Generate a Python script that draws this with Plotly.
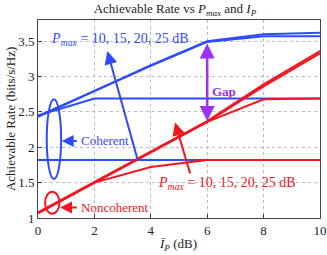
import plotly.graph_objects as go

# ---- data ----
ip_db = [0, 2, 4, 6, 8, 10]

coh_p10 = [1.82, 1.82, 1.82, 1.82, 1.82, 1.82]
coh_p15 = [2.45, 2.69, 2.69, 2.69, 2.69, 2.69]
coh_p20 = [2.44, 2.80, 3.15, 3.49, 3.57, 3.57]
coh_p25 = [2.43, 2.79, 3.16, 3.50, 3.60, 3.62]

noncoh_p10 = [1.07, 1.50, 1.72, 1.82, 1.82, 1.82]
noncoh_p15 = [1.07, 1.50, 1.93, 2.36, 2.68, 2.69]
noncoh_p20 = [1.07, 1.50, 1.93, 2.36, 2.86, 3.33]
noncoh_p25 = [1.08, 1.51, 1.94, 2.37, 2.89, 3.36]

x_ticks = [0, 2, 4, 6, 8, 10]
y_ticks = [1, 1.5, 2, 2.5, 3, 3.5]
y_tick_labels = ["1", "1.5", "2", "2.5", "3", "3.5"]

BLUE = "#2F4BFF"
RED = "#F5141E"
PURPLE = "#9B30FF"
FONT = "Liberation Serif"

fig = go.Figure()

for ys in [coh_p10, coh_p15, coh_p20, coh_p25]:
    fig.add_trace(go.Scatter(x=ip_db, y=ys, mode="lines",
                             line=dict(color=BLUE, width=2), showlegend=False))
for ys in [noncoh_p10, noncoh_p15, noncoh_p20, noncoh_p25]:
    fig.add_trace(go.Scatter(x=ip_db, y=ys, mode="lines",
                             line=dict(color=RED, width=2), showlegend=False))

# ellipses
fig.add_shape(type="circle", xref="x", yref="y", x0=0.31, x1=0.82, y0=1.55, y1=2.68,
              line=dict(color=BLUE, width=2))
fig.add_shape(type="circle", xref="x", yref="y", x0=0.25, x1=0.76, y0=1.06, y1=1.37,
              line=dict(color=RED, width=2))

ann = []
# blue arrow to Pmax text
ann.append(dict(x=2.46, y=3.36, ax=3.55, ay=1.80, xref="x", yref="y", axref="x", ayref="y",
                text="", showarrow=True, arrowhead=2, arrowsize=1.3, arrowwidth=2,
                arrowcolor=BLUE))
ann.append(dict(x=2.90, y=3.53, xref="x", yref="y", showarrow=False, xanchor="center",
                text="<i>P</i><sub><i>max</i></sub> = 10, 15, 20, 25 dB",
                font=dict(family=FONT, size=14, color=BLUE)))
# red arrow
ann.append(dict(x=4.86, y=2.35, ax=5.41, ay=1.61, xref="x", yref="y", axref="x", ayref="y",
                text="", showarrow=True, arrowhead=2, arrowsize=1.3, arrowwidth=2,
                arrowcolor=RED))
ann.append(dict(x=6.70, y=1.495, xref="x", yref="y", showarrow=False, xanchor="center",
                text="<i>P</i><sub><i>max</i></sub> = 10, 15, 20, 25 dB",
                font=dict(family=FONT, size=14, color=RED)))
# coherent
ann.append(dict(x=0.84, y=2.09, ax=1.43, ay=2.09, xref="x", yref="y", axref="x", ayref="y",
                text="", showarrow=True, arrowhead=2, arrowsize=1.2, arrowwidth=2,
                arrowcolor=BLUE))
ann.append(dict(x=1.45, y=2.09, xref="x", yref="y", showarrow=False, xanchor="left",
                text="Coherent", font=dict(family=FONT, size=13, color=BLUE)))
# noncoherent
ann.append(dict(x=0.78, y=1.15, ax=1.43, ay=1.15, xref="x", yref="y", axref="x", ayref="y",
                text="", showarrow=True, arrowhead=2, arrowsize=1.2, arrowwidth=2,
                arrowcolor=RED))
ann.append(dict(x=1.45, y=1.15, xref="x", yref="y", showarrow=False, xanchor="left",
                text="Noncoherent", font=dict(family=FONT, size=13, color=RED)))
# gap double arrow
ann.append(dict(x=6, y=2.37, ax=6, ay=3.49, xref="x", yref="y", axref="x", ayref="y",
                text="", showarrow=True, arrowhead=2, startarrowhead=2, arrowside="end+start",
                arrowsize=1.2, startarrowsize=1.2, arrowwidth=2.5, arrowcolor=PURPLE))
ann.append(dict(x=6.58, y=2.79, xref="x", yref="y", showarrow=False, xanchor="center",
                text="<b>Gap</b>", font=dict(family=FONT, size=13, color=PURPLE)))
# axis titles
ann.append(dict(x=-0.099, y=0.5, xref="paper", yref="paper", showarrow=False,
                xanchor="center", yanchor="middle",
                textangle=-90, text="Achievable Rate (bits/s/Hz)",
                font=dict(family=FONT, size=13, color="#222")))
ann.append(dict(x=0.495, y=-0.135, xref="paper", yref="paper", showarrow=False,
                xanchor="center", yanchor="middle",
                text="<i>Ī</i><sub><i>P</i></sub> (dB)",
                font=dict(family=FONT, size=13, color="#222")))

fig.update_layout(
    width=327, height=255,
    margin=dict(l=38, r=7, t=20, b=37, autoexpand=False),
    paper_bgcolor="white", plot_bgcolor="white",
    font=dict(family=FONT, size=13, color="#222"),
    title=dict(text="Achievable Rate vs <i>P</i><sub><i>max</i></sub> and <i>I</i><sub><i>P</i></sub>",
               x=0.535, xanchor="center", y=0.965, yanchor="middle",
               font=dict(family=FONT, size=13, color="#222")),
    annotations=ann,
    showlegend=False,
)
fig.update_xaxes(range=[0, 10], tickvals=x_ticks, showgrid=True, gridcolor="#bbbbbb",
                 griddash="dot", gridwidth=1, zeroline=False, showline=True, automargin=False,
                 linecolor="#444", linewidth=1, mirror=True, ticks="inside", ticklen=4,
                 tickcolor="#444", tickfont=dict(family=FONT, size=13, color="#222"))
fig.update_yaxes(range=[1, 3.8], tickvals=y_ticks, ticktext=y_tick_labels, showgrid=True,
                 gridcolor="#bbbbbb", griddash="dot", gridwidth=1, zeroline=False, automargin=False,
                 showline=True, linecolor="#444", linewidth=1, mirror=True, ticks="inside",
                 ticklen=4, tickcolor="#444", tickfont=dict(family=FONT, size=13, color="#222"))

fig.write_html("out.html", config={"displayModeBar": False},
               post_script="document.body.style.margin='0';")
